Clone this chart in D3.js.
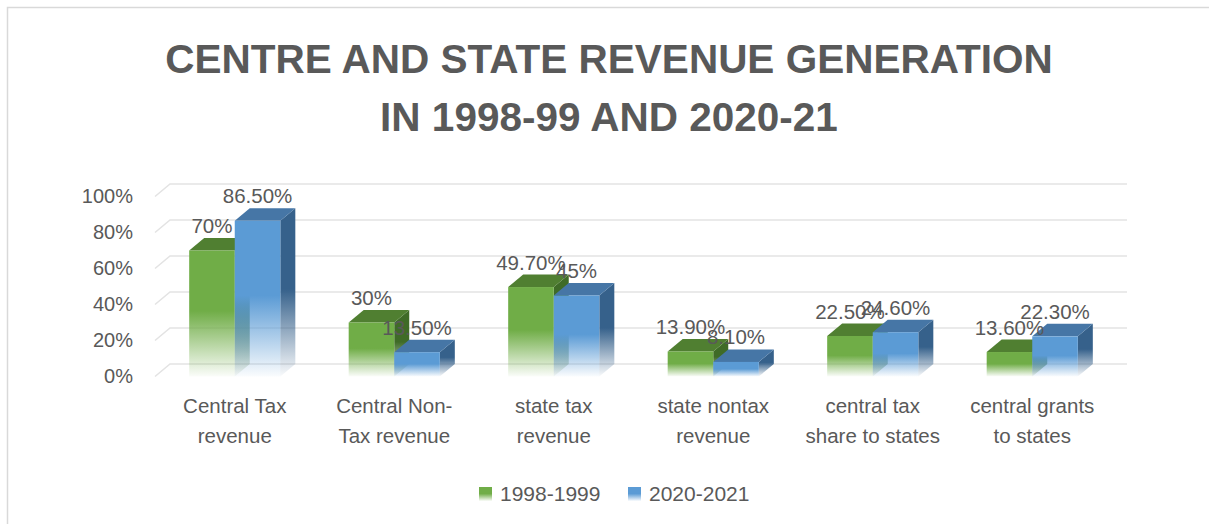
<!DOCTYPE html>
<html>
<head>
<meta charset="utf-8">
<script src="https://cdn.jsdelivr.net/npm/d3@7"></script>
<style>
  body { margin: 0; background: #fff; }
  text { font-family: "Liberation Sans", Arial, sans-serif; fill: #595959; }
</style>
</head>
<body>
<script>
// data ==================================================================
var categories = ["Central Tax\nrevenue", "Central Non-\nTax revenue", "state tax\nrevenue",
                  "state nontax\nrevenue", "central tax\nshare to states", "central grants\nto states"]
var series = ["1998-1999", "2020-2021"]
var values1998 = [0.70, 0.30, 0.497, 0.139, 0.225, 0.136]
var values2020 = [0.865, 0.135, 0.45, 0.081, 0.246, 0.223]
var yTicks = [0, 0.2, 0.4, 0.6, 0.8, 1]
var titleLines = ["CENTRE AND STATE REVENUE GENERATION", "IN 1998-99 AND 2020-21"]

var color = {
  text: "#595959",
  grid: "#e3e3e3",
  front: ["#70ad47", "#5b9bd5"],
  top:   ["#507f31", "#4676a6"],
  side:  ["#3f6b27", "#36618b"]
}

var width = 1209, height = 524
var depth = { dx: 15, dy: 12.5 }   // 3d offset of back wall

var svg = d3.select("body").append("svg")
  .attr("width", width)
  .attr("height", height)

// chart border (only top / left show in the frame)
svg.append("rect")
  .attr("x", 7.5).attr("y", 7.5)
  .attr("width", width + 20).attr("height", height + 20)
  .style("fill", "none")
  .style("stroke", "#d9d9d9")
  .style("stroke-width", 1.5)

// gradients: solid at top, fading out toward the floor
var defs = svg.append("defs")
function fade(id, c) {
  var g = defs.append("linearGradient").attr("id", id)
    .attr("x1", 0).attr("y1", 0).attr("x2", 0).attr("y2", 1)
  g.append("stop").attr("offset", "0%").attr("stop-color", c).attr("stop-opacity", 1)
  g.append("stop").attr("offset", "48%").attr("stop-color", c).attr("stop-opacity", 1)
  g.append("stop").attr("offset", "100%").attr("stop-color", c).attr("stop-opacity", 0.03)
}
series.forEach(function(s, i) {
  fade("front" + i, color.front[i])
  fade("side" + i, color.side[i])
})

// scales
var x = d3.scaleBand().domain(categories).range([155, 1112])
var x1 = d3.scaleBand().domain(series).range([0, x.bandwidth()]).paddingOuter(0.75)
var yF = d3.scaleLinear().domain([0, 1]).range([376.5, 196.5])
function yB(v) { return yF(v) - depth.dy }

// title
svg.append("g").selectAll("text")
  .data(titleLines)
  .enter().append("text")
  .attr("x", 609)
  .attr("y", function(d, i) { return 73 + i * 58 })
  .attr("text-anchor", "middle")
  .attr("font-size", "40.5px")
  .attr("font-weight", "bold")
  .text(function(d) { return d })

// back wall grid lines
svg.append("g").selectAll("path")
  .data(yTicks)
  .enter().append("path")
  .attr("d", function(d) {
    return "M" + x.range()[0] + "," + yF(d) +
           "L" + (x.range()[0] + depth.dx) + "," + yB(d) +
           "L" + (x.range()[1] + depth.dx) + "," + yB(d)
  })
  .style("fill", "none")
  .style("stroke", color.grid)
  .style("stroke-width", 1.5)

// y axis labels
var yAxis = svg.append("g")
  .attr("transform", "translate(133,0)")
  .call(d3.axisLeft(yF).tickValues(yTicks).tickSize(0).tickPadding(0).tickFormat(d3.format(".0%")))
yAxis.select(".domain").remove()
yAxis.selectAll("text")
  .attr("font-size", "20px")
  .style("font-family", "'Liberation Sans', Arial, sans-serif")
  .style("fill", color.text)

// bars
var rows = []
categories.forEach(function(c, ci) {
  rows.push({ cat: c, s: 0, v: values1998[ci] })
  rows.push({ cat: c, s: 1, v: values2020[ci] })
})

var bar = svg.append("g").selectAll(".bar")
  .data(rows)
  .enter().append("g")
  .attr("class", "bar")

var bw = x1.bandwidth()
function bx(d) { return x(d.cat) + x1(series[d.s]) }

bar.append("path")   // side
  .attr("d", function(d) {
    var x0 = bx(d) + bw
    return "M" + x0 + "," + yF(d.v) + "L" + (x0 + depth.dx) + "," + yB(d.v) +
           "L" + (x0 + depth.dx) + "," + yB(0) + "L" + x0 + "," + yF(0) + "Z"
  })
  .style("fill", function(d) { return "url(#side" + d.s + ")" })

bar.append("path")   // top
  .attr("d", function(d) {
    var x0 = bx(d)
    return "M" + x0 + "," + yF(d.v) + "L" + (x0 + bw) + "," + yF(d.v) +
           "L" + (x0 + bw + depth.dx) + "," + yB(d.v) + "L" + (x0 + depth.dx) + "," + yB(d.v) + "Z"
  })
  .style("fill", function(d) { return color.top[d.s] })

bar.append("rect")   // front
  .attr("x", bx)
  .attr("y", function(d) { return yF(d.v) })
  .attr("width", bw)
  .attr("height", function(d) { return yF(0) - yF(d.v) })
  .style("fill", function(d) { return "url(#front" + d.s + ")" })

// data labels
var pct0 = d3.format(".0%"), pct2 = d3.format(".2%")
function label(v) { return Math.abs(v * 100 - Math.round(v * 100)) < 1e-9 ? pct0(v) : pct2(v) }

svg.append("g").selectAll("text")
  .data(rows)
  .enter().append("text")
  .attr("x", function(d) { return bx(d) + bw / 2 })
  .attr("y", function(d) { return yF(d.v) - 17.5 })
  .attr("text-anchor", "middle")
  .attr("font-size", "20.5px")
  .text(function(d) { return label(d.v) })

// category labels
var catLabel = svg.append("g").selectAll("text")
  .data(categories)
  .enter().append("text")
  .attr("text-anchor", "middle")
  .attr("font-size", "20.5px")
catLabel.selectAll("tspan")
  .data(function(d) { return d.split("\n").map(function(t) { return { t: t, c: d } }) })
  .enter().append("tspan")
  .attr("x", function(d) { return x(d.c) + x.bandwidth() / 2 })
  .attr("y", function(d, i) { return 413 + i * 30 })
  .text(function(d) { return d.t })

// legend
var legend = svg.append("g").selectAll("g")
  .data(series)
  .enter().append("g")
  .attr("transform", function(d, i) { return "translate(" + (479 + i * 149) + ",0)" })
legend.append("rect")
  .attr("x", 0).attr("y", 487)
  .attr("width", 13).attr("height", 14)
  .style("fill", function(d, i) { return "url(#front" + i + ")" })
legend.append("text")
  .attr("x", 21).attr("y", 501)
  .attr("font-size", "21px")
  .text(function(d) { return d })
</script>
</body>
</html>
